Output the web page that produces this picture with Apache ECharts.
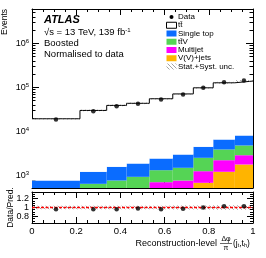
<!DOCTYPE html>
<html><head><meta charset="utf-8">
<script src="https://cdn.jsdelivr.net/npm/echarts@6.0.0/dist/echarts.min.js"></script>
<style>html,body{margin:0;padding:0;background:#fff}#c{width:266px;height:258px}</style>
</head><body><div id="c"></div>
<script>
// ---- data ----
const binEdges   = [0, 0.217, 0.338, 0.428, 0.531, 0.637, 0.730, 0.820, 0.918, 1.0];
const dataCounts = [18700, 28900, 37600, 42600, 53300, 69300, 98400, 131800, 144300];
const ttbar      = [18710, 28890, 37590, 41820, 53090, 68440, 93910, 121380, 131990];
const singleTop  = [370, 567, 807, 941, 1112, 1504, 1967, 2680, 3300];
const ttV        = [350, 557, 630, 713, 615, 726, 1270, 1672, 1920];
const multijet   = [20, 40, 60, 100, 505, 420, 571, 1014, 1112];
const vjets      = [30, 50, 80, 120, 200, 350, 682, 1214, 1778];
const ratio      = [0.96, 0.96, 0.96, 0.975, 0.96, 0.97, 1.0, 1.03, 1.03];
const uncRel     = [0.04, 0.04, 0.04, 0.04, 0.04, 0.045, 0.045, 0.05, 0.05];
const mainYExp   = [3, 4, 5, 6];
const ratioTicks = [0.8, 1, 1.2];
const ratioMinor = [0.7, 0.75, 0.85, 0.9, 0.95, 1.05, 1.1, 1.15, 1.25, 1.3];
const legendLabels = ['Data', 'tt\u0304', 'Single top', 'tt\u0304V', 'Multijet', 'V(V)+jets', 'Stat.+Syst. unc.'];

// ---- styling ----
const FONT = '"Liberation Sans", Arial, Helvetica, sans-serif';
const COLORS = { vjets: '#ffb400', multijet: '#ff00ff', ttV: '#55d455', singleTop: '#0a6cff' };
const Y_MIN = 2.716, Y_MAX = 6.784;

function hatchCanvas(color) {
  const c = document.createElement('canvas'); c.width = 4; c.height = 4;
  const g = c.getContext('2d');
  g.strokeStyle = color; g.lineWidth = 0.6;
  g.beginPath();
  g.moveTo(0, 0); g.lineTo(4, 4);
  g.moveTo(-1, 3); g.lineTo(1, 5);
  g.moveTo(3, -1); g.lineTo(5, 1);
  g.stroke();
  return c;
}
const hatch = { image: hatchCanvas('#666'), repeat: 'repeat' };

const log10 = v => Math.log10(v);
const centers = binEdges.slice(0, -1).map((e, i) => (e + binEdges[i + 1]) / 2);

function rectRender(fill) {
  return function (params, api) {
    const p0 = api.coord([api.value(0), api.value(3)]);
    const p1 = api.coord([api.value(1), api.value(2)]);
    const cs = params.coordSys;
    const top = Math.max(p0[1], cs.y);
    const bot = Math.min(p1[1], cs.y + cs.height);
    if (bot <= top) return null;
    return { type: 'rect', shape: { x: p0[0], y: top, width: p1[0] - p0[0], height: bot - top },
             style: { fill: fill, stroke: null } };
  };
}

// stack, bottom to top
const layers = [
  { name: 'V(V)+jets', vals: vjets, color: COLORS.vjets },
  { name: 'Multijet', vals: multijet, color: COLORS.multijet },
  { name: 'ttV', vals: ttV, color: COLORS.ttV },
  { name: 'Single top', vals: singleTop, color: COLORS.singleTop },
  { name: 'ttbar', vals: ttbar, color: '#ffffff' }
];
const cum = dataCounts.map(() => 0);
const series = [];
layers.forEach(L => {
  const items = L.vals.map((v, i) => {
    const lo = cum[i], hi = lo + v; cum[i] = hi;
    return [binEdges[i], binEdges[i + 1], log10(Math.max(lo, 1)), log10(hi)];
  });
  series.push({ type: 'custom', name: L.name, xAxisIndex: 0, yAxisIndex: 0, silent: true,
    renderItem: rectRender(L.color), encode: { x: [0, 1], y: [2, 3] }, data: items, z: 2 });
});
const total = cum.slice();

// main uncertainty band
series.push({ type: 'custom', xAxisIndex: 0, yAxisIndex: 0, silent: true, z: 4,
  renderItem: rectRender(hatch), encode: { x: [0, 1], y: [2, 3] },
  data: total.map((t, i) => [binEdges[i], binEdges[i + 1], log10(t * (1 - uncRel[i])), log10(t * (1 + uncRel[i]))]) });

// total prediction outline
const stepData = binEdges.slice(0, -1).map((e, i) => [e, log10(total[i])]);
stepData.push([binEdges[binEdges.length - 1], log10(total[total.length - 1])]);
series.push({ type: 'line', xAxisIndex: 0, yAxisIndex: 0, step: 'end', data: stepData, symbol: 'none',
  lineStyle: { color: '#000', width: 1 }, z: 3, silent: true });

// data points
series.push({ type: 'scatter', xAxisIndex: 0, yAxisIndex: 0, symbol: 'circle', symbolSize: 4.5,
  itemStyle: { color: '#000' }, z: 6, silent: true,
  data: centers.map((c, i) => [c, log10(dataCounts[i])]) });

// ratio band
series.push({ type: 'custom', xAxisIndex: 2, yAxisIndex: 4, silent: true, z: 3,
  renderItem: rectRender(hatch), encode: { x: [0, 1], y: [2, 3] },
  data: uncRel.map((u, i) => [binEdges[i], binEdges[i + 1], 1 - u, 1 + u]) });
series.push({ type: 'line', xAxisIndex: 2, yAxisIndex: 4, data: [[0, 1], [1, 1]], symbol: 'none',
  lineStyle: { color: '#ff0000', width: 1.3, type: [3, 1.5] }, z: 5, silent: true });
series.push({ type: 'scatter', xAxisIndex: 2, yAxisIndex: 4, symbol: 'circle', symbolSize: 4.5,
  itemStyle: { color: '#000' }, z: 6, silent: true,
  data: centers.map((c, i) => [c, ratio[i]]) });

// ---- axes ----
const lineBlack = { show: true, lineStyle: { color: '#000', width: 1 } };
function xAx(grid, pos, labels) {
  return { type: 'value', gridIndex: grid, position: pos, min: 0, max: 1, interval: 0.2,
    axisLine: lineBlack, splitLine: { show: false },
    axisTick: { show: true, inside: true, length: 6, lineStyle: { color: '#000' } },
    minorTick: { show: true, splitNumber: 4, length: 3, lineStyle: { color: '#000' } },
    axisLabel: labels ? { show: true, color: '#000', fontSize: 9.5, fontFamily: FONT, margin: 3 } : { show: false } };
}
const minorLog = [];
for (let n = 2; n <= 6; n++) for (let k = 2; k <= 9; k++) {
  const v = log10(k) + n; if (v > Y_MIN && v < Y_MAX) minorLog.push(v);
}
function yMain(pos, labels) {
  return { type: 'value', gridIndex: 0, position: pos, min: Y_MIN, max: Y_MAX,
    axisLine: lineBlack, splitLine: { show: false },
    axisTick: { show: true, inside: true, length: 7, customValues: mainYExp, lineStyle: { color: '#000' } },
    axisLabel: labels ? { show: true, customValues: mainYExp, margin: 3, color: '#000',
      formatter: v => '{b|10}{s|' + Math.round(v) + '}',
      rich: { b: { fontSize: 9, fontFamily: FONT, color: '#000', lineHeight: 11 },
              s: { fontSize: 6, fontFamily: FONT, color: '#000', lineHeight: 6, verticalAlign: 'top' } } } : { show: false } };
}
function yMainMinor(pos) {
  return { type: 'value', gridIndex: 0, position: pos, min: Y_MIN, max: Y_MAX,
    axisLine: { show: false }, splitLine: { show: false }, axisLabel: { show: false },
    axisTick: { show: true, inside: true, length: 3.5, customValues: minorLog, lineStyle: { color: '#000' } } };
}
function yRatio(pos, labels) {
  return { type: 'value', gridIndex: 1, position: pos, min: 0.65, max: 1.35,
    axisLine: lineBlack, splitLine: { show: false },
    axisTick: { show: true, inside: true, length: 6, customValues: ratioTicks, lineStyle: { color: '#000' } },
    axisLabel: labels ? { show: true, customValues: ratioTicks, margin: 3, color: '#000', fontSize: 9, fontFamily: FONT } : { show: false } };
}
function yRatioMinor(pos) {
  return { type: 'value', gridIndex: 1, position: pos, min: 0.65, max: 1.35,
    axisLine: { show: false }, splitLine: { show: false }, axisLabel: { show: false },
    axisTick: { show: true, inside: true, length: 3, customValues: ratioMinor, lineStyle: { color: '#000' } } };
}

// ---- text & legend as graphics ----
const graphics = [];
const txt = (x, y, text, extra) => graphics.push({ type: 'text', x: x, y: y, silent: true,
  style: Object.assign({ text: text, fill: '#000', font: '9.5px ' + FONT, verticalAlign: 'middle' }, extra || {}) });
txt(44, 20, 'ATLAS', { font: 'italic bold 11px ' + FONT });
graphics.push({ type: 'text', x: 44, y: 32, silent: true, style: { text: '\u221As = 13 TeV, 139 fb{sup|-1}',
  fill: '#000', font: '9.5px ' + FONT, verticalAlign: 'middle',
  rich: { sup: { font: '6px ' + FONT, fill: '#000', verticalAlign: 'top', lineHeight: 6 } } } });
txt(44, 43, 'Boosted');
txt(44, 54, 'Normalised to data');
// axis titles
graphics.push({ type: 'text', x: 5, y: 9, rotation: Math.PI / 2, silent: true,
  style: { text: 'Events', fill: '#000', font: '8.5px ' + FONT, align: 'right', verticalAlign: 'middle' } });
graphics.push({ type: 'text', x: 11, y: 207.5, rotation: Math.PI / 2, silent: true,
  style: { text: 'Data/Pred.', fill: '#000', font: '8.5px ' + FONT, align: 'center', verticalAlign: 'middle' } });
txt(217, 244, 'Reconstruction-level', { align: 'right', font: '9px ' + FONT });
txt(226, 239, '\u0394\u03C6', { align: 'center', font: '7px ' + FONT });
graphics.push({ type: 'line', silent: true, shape: { x1: 220, y1: 243.5, x2: 232, y2: 243.5 }, style: { stroke: '#000', lineWidth: 0.6 } });
txt(226, 248.5, '\u03C0', { align: 'center', font: '7px ' + FONT });
graphics.push({ type: 'text', x: 233, y: 244, silent: true, style: { text: '(j{sub|t},t{sub|h})', fill: '#000',
  font: '8.5px ' + FONT, verticalAlign: 'middle',
  rich: { sub: { font: '5.5px ' + FONT, fill: '#000', verticalAlign: 'bottom', lineHeight: 5 } } } });

// legend
const legendKinds = [
  { kind: 'dot' }, { kind: 'box', fill: '#fff', stroke: '#000' },
  { kind: 'box', fill: COLORS.singleTop }, { kind: 'box', fill: COLORS.ttV },
  { kind: 'box', fill: COLORS.multijet }, { kind: 'box', fill: COLORS.vjets }, { kind: 'box', fill: hatch }
];
legendLabels.forEach((lab, i) => {
  const y = 17 + 8.25 * i;
  const k = legendKinds[i];
  if (k.kind === 'dot') {
    graphics.push({ type: 'circle', silent: true, shape: { cx: 171.5, cy: y, r: 2 }, style: { fill: '#000' } });
  } else {
    graphics.push({ type: 'rect', silent: true, shape: { x: 166.5, y: y - 3, width: 10, height: 6 },
      style: { fill: k.fill, stroke: k.stroke || null, lineWidth: 1 } });
  }
  txt(178, y, lab, { font: '8px ' + FONT });
});

const chart = echarts.init(document.getElementById('c'), null, { renderer: 'canvas', width: 266, height: 258 });
chart.setOption({
  animation: false,
  backgroundColor: '#fff',
  grid: [
    { left: 32, top: 9, width: 221, height: 179 },
    { left: 32, top: 192, width: 221, height: 31 }
  ],
  xAxis: [xAx(0, 'bottom', false), xAx(0, 'top', false), xAx(1, 'bottom', true), xAx(1, 'top', false)],
  yAxis: [yMain('left', true), yMainMinor('left'), yMain('right', false), yMainMinor('right'),
          yRatio('left', true), yRatioMinor('left'), yRatio('right', false), yRatioMinor('right')],
  series: series,
  graphic: graphics
});
</script></body></html>
